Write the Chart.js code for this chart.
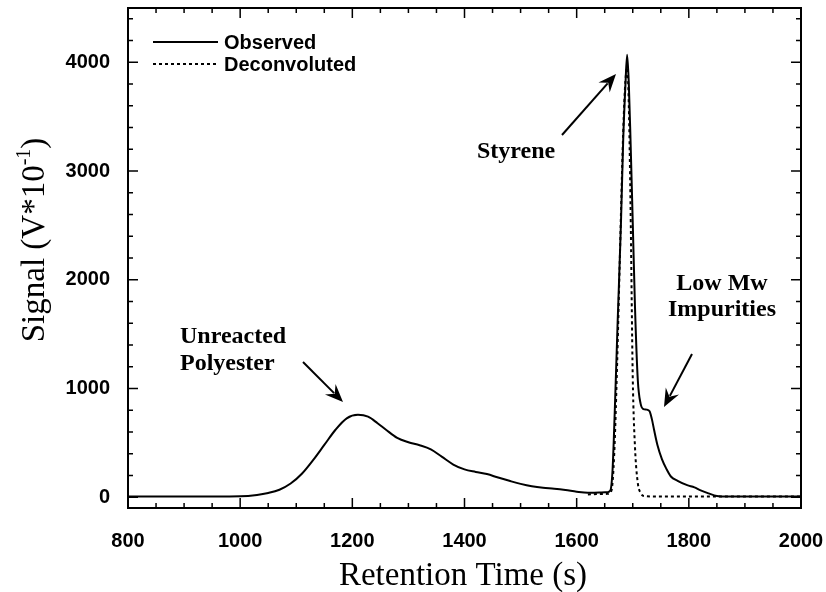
<!DOCTYPE html>
<html>
<head>
<meta charset="utf-8">
<script src="https://cdn.jsdelivr.net/npm/chart.js"></script>
<style>
  html, body { margin: 0; padding: 0; background: #fff; }
</style>
</head>
<body>
<canvas id="chart" width="826" height="592"></canvas>
<script>
// Values: retention time (s) vs signal (V*10^-1)
const obsTime = [800, 900, 1000, 1030, 1050, 1070, 1090, 1110, 1130, 1150, 1170, 1190, 1210, 1228, 1245, 1260, 1280, 1300, 1320, 1340, 1360, 1380, 1400, 1420, 1440, 1460, 1480, 1500, 1520, 1540, 1560, 1580, 1600, 1620, 1640, 1655, 1660, 1664, 1668, 1673, 1679, 1683, 1687, 1690, 1693, 1696, 1700, 1704, 1709, 1714, 1719, 1725, 1730, 1734, 1738, 1744, 1752, 1760, 1768, 1780, 1797, 1810, 1820, 1835, 1850, 1870, 1920, 2000];
const obsSignal = [5, 5, 8, 20, 38, 68, 125, 215, 340, 480, 620, 725, 757, 740, 680, 620, 545, 505, 478, 440, 370, 300, 255, 232, 212, 180, 150, 122, 100, 86, 78, 66, 50, 40, 42, 45, 60, 250, 800, 1600, 2525, 3290, 3800, 4070, 3800, 3290, 2525, 1750, 1078, 860, 810, 805, 790, 720, 620, 480, 350, 260, 190, 150, 110, 90, 65, 35, 10, 5, 5, 5];

const decTime = [1620, 1640, 1655, 1662, 1667, 1672, 1677, 1682, 1686, 1690, 1693, 1696, 1700, 1704, 1709, 1714, 1720, 1740, 1800, 1900, 2000];
const decSignal = [25, 28, 30, 60, 400, 1200, 2200, 3200, 3750, 3950, 3600, 2700, 1100, 460, 130, 40, 10, 5, 5, 5, 5];

const xTicks = [800, 1000, 1200, 1400, 1600, 1800, 2000];
const yTicks = [0, 1000, 2000, 3000, 4000];

const SANS = '"Liberation Sans", Arial, sans-serif';
const SERIF = '"Liberation Serif", "Times New Roman", serif';

function arrow(ctx, x1, y1, x2, y2) {
  const ang = Math.atan2(y2 - y1, x2 - x1);
  const L = 18, W = 7.5;
  ctx.beginPath();
  ctx.moveTo(x1, y1);
  ctx.lineTo(x2 - Math.cos(ang) * L * 0.7, y2 - Math.sin(ang) * L * 0.7);
  ctx.stroke();
  ctx.save();
  ctx.translate(x2, y2);
  ctx.rotate(ang);
  ctx.beginPath();
  ctx.moveTo(0, 0);
  ctx.lineTo(-L, -W);
  ctx.lineTo(-L * 0.65, 0);
  ctx.lineTo(-L, W);
  ctx.closePath();
  ctx.fill();
  ctx.restore();
}

// box, inward ticks, labels, legend and annotations
const frame = {
  id: 'frame',
  afterDraw(chart) {
    const { ctx, chartArea: a, scales: { x, y } } = chart;
    ctx.save();
    ctx.strokeStyle = '#000';
    ctx.fillStyle = '#000';

    // ticks on all four sides
    ctx.lineWidth = 1.5;
    ctx.beginPath();
    for (let v = 800; v <= 2000; v += 50) {
      const px = x.getPixelForValue(v);
      const len = v % 200 === 0 ? 10 : 5;
      ctx.moveTo(px, a.bottom); ctx.lineTo(px, a.bottom - len);
      ctx.moveTo(px, a.top); ctx.lineTo(px, a.top + len);
    }
    for (let v = 0; v <= 4400; v += 200) {
      const py = y.getPixelForValue(v);
      const len = v % 1000 === 0 ? 10 : 5;
      ctx.moveTo(a.left, py); ctx.lineTo(a.left + len, py);
      ctx.moveTo(a.right, py); ctx.lineTo(a.right - len, py);
    }
    ctx.stroke();

    ctx.lineWidth = 2;
    ctx.strokeRect(a.left, a.top, a.right - a.left, a.bottom - a.top);

    // tick labels
    ctx.font = 'bold 20px ' + SANS;
    ctx.textAlign = 'center';
    ctx.textBaseline = 'middle';
    xTicks.forEach(v => ctx.fillText(String(v), x.getPixelForValue(v), 541));
    ctx.textAlign = 'right';
    yTicks.forEach(v => ctx.fillText(String(v), 110, y.getPixelForValue(v)));

    // legend
    ctx.textAlign = 'left';
    ctx.lineWidth = 2;
    ctx.beginPath(); ctx.moveTo(153, 42); ctx.lineTo(218, 42); ctx.stroke();
    ctx.setLineDash([3, 3]);
    ctx.beginPath(); ctx.moveTo(153, 64); ctx.lineTo(218, 64); ctx.stroke();
    ctx.setLineDash([]);
    ctx.fillText('Observed', 224, 43);
    ctx.fillText('Deconvoluted', 224, 65);

    // axis titles
    ctx.textAlign = 'center';
    ctx.textBaseline = 'alphabetic';
    ctx.font = '33px ' + SERIF;
    ctx.fillText('Retention Time (s)', 463, 585);

    ctx.save();
    ctx.translate(33, 240);
    ctx.rotate(-Math.PI / 2);
    ctx.textAlign = 'left';
    const main = 'Signal (V*10', sup = '-1', end = ')';
    ctx.font = '33px ' + SERIF;
    const w1 = ctx.measureText(main).width, w3 = ctx.measureText(end).width;
    ctx.font = '20px ' + SERIF;
    const w2 = ctx.measureText(sup).width;
    let sx = -(w1 + w2 + w3) / 2;
    ctx.font = '33px ' + SERIF;
    ctx.fillText(main, sx, 11);
    ctx.font = '20px ' + SERIF;
    ctx.fillText(sup, sx + w1, -3);
    ctx.font = '33px ' + SERIF;
    ctx.fillText(end, sx + w1 + w2, 11);
    ctx.restore();

    // annotations
    ctx.font = 'bold 24px ' + SERIF;
    ctx.textAlign = 'left';
    ctx.fillText('Unreacted', 180, 343);
    ctx.fillText('Polyester', 180, 370);
    ctx.fillText('Styrene', 477, 158);
    ctx.textAlign = 'center';
    ctx.fillText('Low Mw', 722, 290);
    ctx.fillText('Impurities', 722, 316);

    ctx.lineWidth = 2;
    arrow(ctx, 303, 362, 343, 402);
    arrow(ctx, 562, 135, 616, 74);
    arrow(ctx, 692, 354, 664, 407);

    ctx.restore();
  }
};

const toPoints = (xs, ys) => xs.map((t, i) => ({ x: t, y: ys[i] }));

new Chart(document.getElementById('chart'), {
  type: 'line',
  data: {
    datasets: [
      {
        label: 'Observed',
        data: toPoints(obsTime, obsSignal),
        borderColor: '#000',
        borderWidth: 2,
        pointRadius: 0,
        cubicInterpolationMode: 'monotone'
      },
      {
        label: 'Deconvoluted',
        data: toPoints(decTime, decSignal),
        borderColor: '#000',
        borderWidth: 2,
        borderDash: [3, 3],
        pointRadius: 0,
        cubicInterpolationMode: 'monotone'
      }
    ]
  },
  options: {
    responsive: false,
    animation: false,
    layout: { padding: { left: 128, right: 25, top: 8, bottom: 84 } },
    plugins: { legend: { display: false }, tooltip: { enabled: false } },
    scales: {
      x: { type: 'linear', min: 800, max: 2000, display: false },
      y: { type: 'linear', min: -100, max: 4500, display: false }
    }
  },
  plugins: [frame]
});
</script>
</body>
</html>
